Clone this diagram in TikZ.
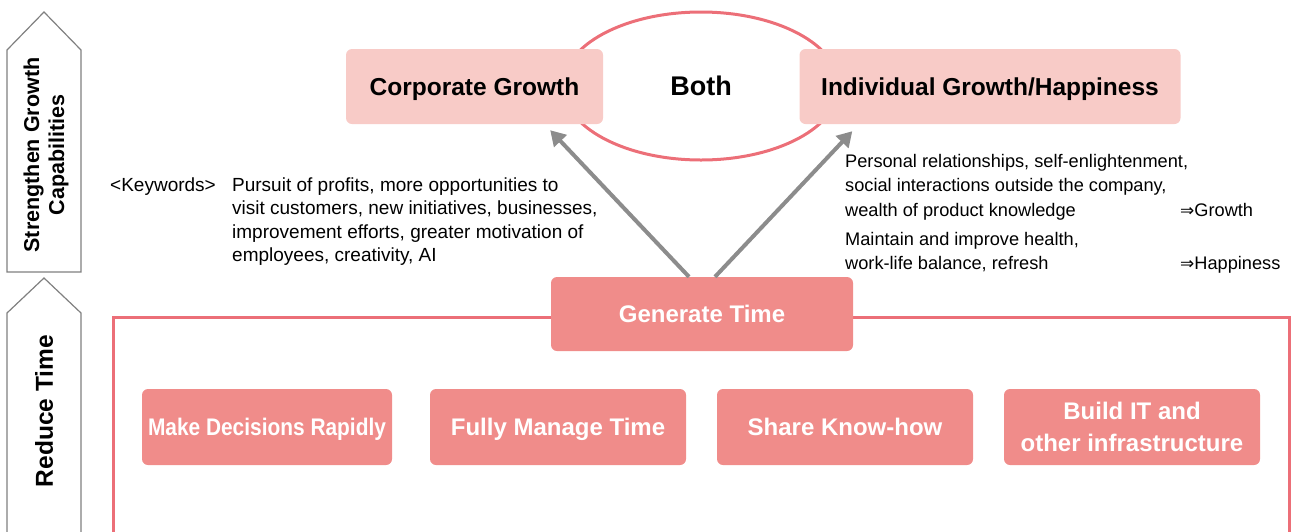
\documentclass[tikz,border=0pt]{standalone}
\usepackage{fontspec}
\setmainfont{Liberation Sans}
\newfontfamily\djv{DejaVu Sans}
\usetikzlibrary{shapes.geometric,arrows.meta}
\definecolor{pinkL}{HTML}{F8CBC7}
\definecolor{pinkM}{HTML}{F08C8A}
\definecolor{redL}{HTML}{EC6F78}
\definecolor{greyA}{HTML}{8C8C8C}
\definecolor{greyP}{HTML}{808080}
\newcommand{\impl}{{\djv\fontsize{17}{20}\selectfont ⇒}}
\begin{document}
\begin{tikzpicture}[x=1pt,y=-1pt,
  lightbox/.style={fill=pinkL, rounded corners=6pt, minimum width=#1, minimum height=75pt,
    inner sep=0pt, text depth=0pt, font=\fontsize{24.5}{28}\selectfont\bfseries, text=black},
  darkbox/.style={fill=pinkM, rounded corners=6pt, minimum width=#1, minimum height=76pt,
    inner sep=0pt, text depth=0pt, align=center, font=\fontsize{24}{32}\selectfont\bfseries, text=white},
  pent/.style={draw=greyP, line width=1.2pt, fill=white},
  redline/.style={draw=redL, line width=3pt},
  growarrow/.style={draw=greyA, line width=4pt, -{Triangle[length=15pt,width=17pt]}},
  sidelabel/.style={rotate=90, align=center, font=\bfseries},
  bodytext/.style={inner sep=0pt, anchor=base west, font=\fontsize{19}{23.5}\selectfont}
]
\useasboundingbox (0,0) rectangle (1293,531);

% side pentagon arrows
\draw[pent] (7,272) -- (7,50) -- (44,12) -- (81,50) -- (81,272) -- cycle;
\draw[pent] (7,545) -- (7,313) -- (44,278) -- (81,313) -- (81,545);
\node[sidelabel, font=\fontsize{21.5}{25}\selectfont\bfseries] (sgc) at (46,155) {Strengthen Growth\\Capabilities};
\node[sidelabel, font=\fontsize{24.5}{28}\selectfont\bfseries] (rt) at (44,411) {Reduce Time};

% big red frame
\draw[redline] (113,545) -- (113,317) -- (1289,317) -- (1289,545);

% ellipse "Both"
\node[ellipse, draw=redL, line width=3pt, minimum width=276pt, minimum height=148pt,
  inner sep=0pt, text depth=0pt, font=\fontsize{27}{30}\selectfont\bfseries] (both) at (701,86) {Both};

% top boxes
\node[lightbox=257pt] (cg) at (474.5,86.5) {Corporate Growth};
\node[lightbox=381pt] (ig) at (990,86.5) {Individual Growth/Happiness};

% generate time
\node[darkbox=302pt, minimum height=74pt] (gen) at (702,314) {Generate Time};

% bottom boxes
\node[darkbox=250pt] (b1) at (267,427) {\scalebox{0.87}[1]{Make Decisions Rapidly}};
\node[darkbox=256pt] (b2) at (558,427) {Fully Manage Time};
\node[darkbox=256pt] (b3) at (845,427) {Share Know-how};
\node[darkbox=256pt] (b4) at (1132,427) {Build IT and\\other infrastructure};

% arrows
\draw[growarrow] ([xshift=-13pt]gen.north) -- ([xshift=-53pt,yshift=-6pt]cg.south east);
\draw[growarrow] ([xshift=13pt]gen.north) -- ([xshift=53pt,yshift=-7pt]ig.south west);

% keyword text
\node[bodytext] (kw) at (110,191) {\begin{tabular}[t]{@{}p{122pt}@{}l@{}}
<Keywords> & Pursuit of profits, more opportunities to\\
 & visit customers, new initiatives, businesses,\\
 & improvement efforts, greater motivation of\\
 & employees, creativity, AI
\end{tabular}};

\node[bodytext, font=\fontsize{18.2}{24.5}\selectfont] (pg) at (845,167) {\begin{tabular}[t]{@{}l@{}}
Personal relationships, self-enlightenment,\\
social interactions outside the company,\\
\makebox[335pt][l]{wealth of product knowledge}\impl Growth\\[4.5pt]
Maintain and improve health,\\
\makebox[335pt][l]{work-life balance, refresh}\impl Happiness
\end{tabular}};
\end{tikzpicture}
\end{document}
